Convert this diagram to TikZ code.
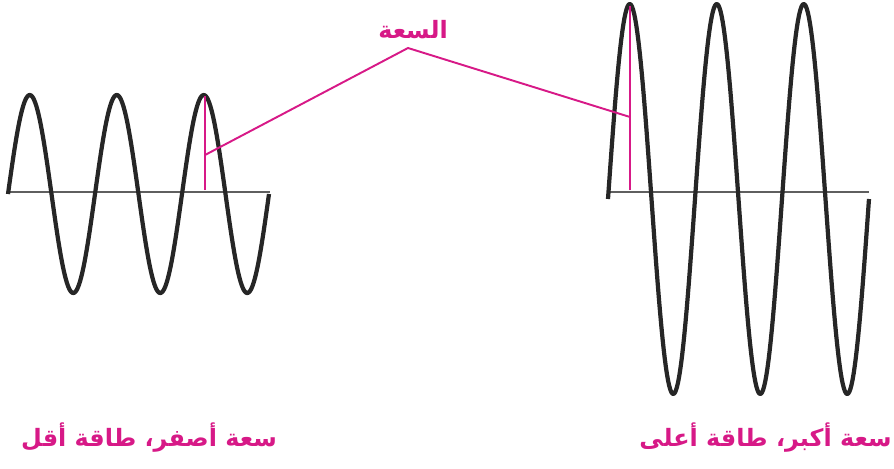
\documentclass[tikz,border=0pt]{standalone}
\usepackage{fontspec}
\usepackage{tikz}
\usetikzlibrary{positioning}
\newfontfamily\arabicfont[Script=Arabic]{DejaVu Sans}
\TeXXeTstate=1
\definecolor{mypink}{RGB}{215,25,135}
\definecolor{mygray}{RGB}{95,95,95}

\begin{document}
\begin{tikzpicture}[x=0.02cm, y=-0.02cm,
    wave/.style={line width=2.4pt, line join=round, black!85},
    axis/.style={mygray, line width=0.8pt},
    lead/.style={mypink, line width=1.1pt},
    wavelabel/.style={text=mypink, inner sep=0pt,
                font=\arabicfont\bfseries\fontsize{13.6}{16}\selectfont}]
  \useasboundingbox (0,0) rectangle (894,468);

  % axes
  \draw[axis] (8,192) -- (270,192);
  \draw[axis] (608,192) -- (869,192);

  % small wave and large wave
  \draw[wave] plot[domain=0:1080, samples=240]
    ({8+\x/360*87}, {194-99*sin(\x)});
  \draw[wave] plot[domain=0:1080, samples=240]
    ({608+\x/360*87}, {199-195*sin(\x)});

  % amplitude markers
  \coordinate (lpeak) at (205,96);
  \coordinate (lfoot) at (205,190);
  \coordinate (lmid)  at (205,155);
  \coordinate (rpeak) at (630,6);
  \coordinate (rfoot) at (630,190);
  \coordinate (rmid)  at (630,117);
  \coordinate (apex)  at (408,48);
  \draw[lead] (lfoot) -- (lpeak);
  \draw[lead] (rfoot) -- (rpeak);
  \draw[lead] (lmid) -- (apex) -- (rmid);

  % labels
  \node[wavelabel] (amp) at (413,30) {\beginR السعة\endR};
  \node[wavelabel] (lowcap)  at (149,438) {\beginR سعة أصفر، طاقة أقل\endR};
  \node[wavelabel, anchor=east] (highcap) at (892,438) {\beginR سعة أكبر، طاقة أعلى\endR};
\end{tikzpicture}
\end{document}
